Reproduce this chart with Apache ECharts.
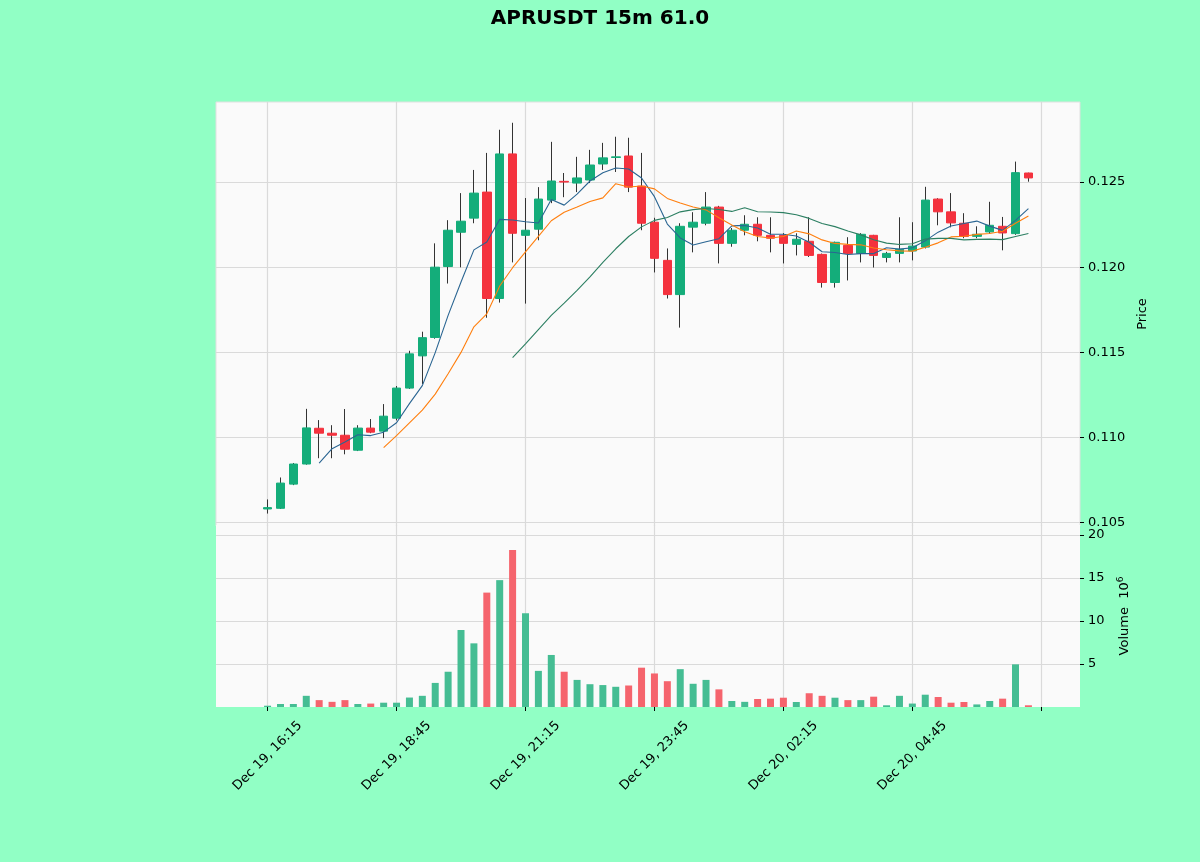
<!DOCTYPE html>
<html>
<head>
<meta charset="utf-8">
<title>APRUSDT 15m 61.0</title>
<script src="https://cdn.jsdelivr.net/npm/echarts@6/dist/echarts.min.js"></script>
<style>
  html, body { margin: 0; padding: 0; background: #91ffc5; }
  #chart { width: 1200px; height: 862px; }
</style>
</head>
<body>
<div id="chart"></div>
<script>
// 15m bars, Dec 19 16:15 -> Dec 20 07:00
const opens = [
  0.10580, 0.10584, 0.10726, 0.10844, 0.11054, 0.11025, 0.11013, 0.10925, 0.11055, 0.11037,
  0.11113, 0.11290, 0.11479, 0.11587, 0.12004, 0.12205, 0.12288, 0.12441, 0.11816, 0.12665,
  0.12187, 0.12223, 0.12394, 0.12504, 0.12494, 0.12512, 0.12606, 0.12644, 0.12653, 0.12476,
  0.12264, 0.12040, 0.11839, 0.12235, 0.12258, 0.12353, 0.12140, 0.12217, 0.12252, 0.12187,
  0.12187, 0.12134, 0.12152, 0.12075, 0.11910, 0.12128, 0.12081, 0.12187, 0.12057, 0.12081,
  0.12095, 0.12118, 0.12400, 0.12325, 0.12258, 0.12181, 0.12207, 0.12240, 0.12197, 0.12553
];
const highs = [
  0.10636, 0.10765, 0.10850, 0.11168, 0.11102, 0.11072, 0.11167, 0.11072, 0.11108, 0.11196,
  0.11302, 0.11509, 0.11621, 0.12140, 0.12276, 0.12435, 0.12571, 0.12671, 0.12807, 0.12848,
  0.12406, 0.12470, 0.12736, 0.12553, 0.12648, 0.12689, 0.12730, 0.12766, 0.12760, 0.12671,
  0.12290, 0.12110, 0.12258, 0.12323, 0.12441, 0.12360, 0.12230, 0.12305, 0.12293, 0.12293,
  0.12200, 0.12199, 0.12293, 0.12080, 0.12150, 0.12176, 0.12200, 0.12190, 0.12090, 0.12293,
  0.12264, 0.12472, 0.12405, 0.12435, 0.12317, 0.12240, 0.12384, 0.12295, 0.12620, 0.12555
];
const lows = [
  0.10553, 0.10580, 0.10720, 0.10840, 0.10878, 0.10878, 0.10901, 0.10920, 0.11025, 0.10996,
  0.11100, 0.11285, 0.11314, 0.11580, 0.11904, 0.11999, 0.12258, 0.11703, 0.11792, 0.12028,
  0.11786, 0.12158, 0.12376, 0.12411, 0.12441, 0.12494, 0.12571, 0.12559, 0.12441, 0.12217,
  0.11969, 0.11816, 0.11645, 0.12087, 0.12246, 0.12022, 0.12120, 0.12187, 0.12152, 0.12087,
  0.12022, 0.12069, 0.12060, 0.11880, 0.11880, 0.11922, 0.12028, 0.11998, 0.12028, 0.12028,
  0.12040, 0.12110, 0.12246, 0.12234, 0.12170, 0.12170, 0.12195, 0.12099, 0.12190, 0.12502
];
const closes = [
  0.10588, 0.10732, 0.10844, 0.11056, 0.11025, 0.11013, 0.10931, 0.11055, 0.11031, 0.11125,
  0.11290, 0.11491, 0.11586, 0.12000, 0.12217, 0.12270, 0.12435, 0.11816, 0.12665, 0.12199,
  0.12217, 0.12400, 0.12506, 0.12500, 0.12524, 0.12600, 0.12642, 0.12648, 0.12470, 0.12258,
  0.12052, 0.11839, 0.12240, 0.12264, 0.12353, 0.12140, 0.12217, 0.12252, 0.12187, 0.12170,
  0.12140, 0.12164, 0.12069, 0.11910, 0.12146, 0.12081, 0.12193, 0.12069, 0.12081, 0.12105,
  0.12124, 0.12394, 0.12325, 0.12260, 0.12181, 0.12193, 0.12246, 0.12201, 0.12555, 0.12524
];
// volume in units of 10^6
const volumes = [
  0.15, 0.35, 0.35, 1.3, 0.8, 0.6, 0.8, 0.35, 0.4, 0.5,
  0.5, 1.1, 1.3, 2.8, 4.1, 8.95, 7.4, 13.3, 14.75, 18.25,
  10.9, 4.2, 6.05, 4.1, 3.15, 2.65, 2.55, 2.35, 2.5, 4.57,
  3.9, 3.0, 4.4, 2.7, 3.15, 2.05, 0.7, 0.6, 0.93, 0.97,
  1.08, 0.58, 1.6, 1.3, 1.08, 0.8, 0.8, 1.2, 0.2, 1.3,
  0.4, 1.43, 1.16, 0.5, 0.58, 0.3, 0.7, 0.97, 4.96, 0.2
];
const tickLabels = [
  "Dec 19, 16:15", "Dec 19, 18:45", "Dec 19, 21:15",
  "Dec 19, 23:45", "Dec 20, 02:15", "Dec 20, 04:45", ""
];
const priceTicks = [0.105, 0.110, 0.115, 0.120, 0.125];
const volumeTicks = [5, 10, 15, 20];
const maPeriods = [5, 10, 20];

const UP = "#14ad7a";
const DOWN = "#f4323e";
const UP_VOL = "#45bd93";
const DOWN_VOL = "#f5646d";
const MA_COLORS = ["#2a6592", "#ff7f0e", "#2c7f62"];
const FONT = "DejaVu Sans";

const padBefore = 4;
const padAfter = 4;
const tickEvery = 10;

function pad(list) {
  return [...Array(padBefore).fill("-"), ...list, ...Array(padAfter).fill("-")];
}

function movingAverage(values, n) {
  return values.map((_, i) => {
    if (i < n - 1) {
      return "-";
    }
    const win = values.slice(i - n + 1, i + 1);
    return win.reduce((a, b) => a + b, 0) / n;
  });
}

const barCount = closes.length;
const categories = [];
for (let k = 0; k < barCount + padBefore + padAfter; k++) {
  categories.push("bar" + (k - padBefore));
}

function isTick(index) {
  const i = index - padBefore;
  return i >= 0 && i % tickEvery === 0 && i / tickEvery < tickLabels.length;
}

const wickData = pad(closes.map((c, i) => [opens[i], c, lows[i], highs[i]]));
const bodyData = pad(closes.map((c, i) => [opens[i], c, Math.min(opens[i], c), Math.max(opens[i], c)]));
const volumeData = pad(volumes.map((v, i) => ({
  value: v,
  itemStyle: { color: closes[i] >= opens[i] ? UP_VOL : DOWN_VOL }
})));

const maSeries = maPeriods.map((n, j) => ({
  name: "MA" + n,
  type: "line",
  xAxisIndex: 0,
  yAxisIndex: 0,
  data: pad(movingAverage(closes, n)),
  symbol: "none",
  smooth: false,
  z: 5,
  lineStyle: { color: MA_COLORS[j], width: 1.1 }
}));

const chart = echarts.init(document.getElementById("chart"));

const xAxisBase = {
  type: "category",
  data: categories,
  boundaryGap: false,
  axisLine: { show: false },
  splitLine: {
    show: true,
    interval: (index) => isTick(index),
    lineStyle: { color: "#dadada", width: 1.2 }
  }
};

chart.setOption({
  backgroundColor: "#91ffc5",
  animation: false,
  title: {
    text: "APRUSDT 15m 61.0",
    left: "center",
    top: 4,
    textStyle: { fontFamily: FONT, fontWeight: "bold", fontSize: 20, color: "#000" }
  },
  grid: [
    {
      left: 216, right: 120, top: 102, height: 424,
      show: true, backgroundColor: "#fafafa", borderColor: "#e0e0e0", borderWidth: 1
    },
    {
      left: 216, right: 120, top: 525, height: 182,
      show: true, backgroundColor: "#fafafa", borderColor: "#e6e6e6", borderWidth: 0
    }
  ],
  xAxis: [
    Object.assign({}, xAxisBase, {
      gridIndex: 0,
      axisTick: { show: false },
      axisLabel: { show: false }
    }),
    Object.assign({}, xAxisBase, {
      gridIndex: 1,
      axisTick: {
        show: true,
        interval: (index) => isTick(index),
        length: 4,
        lineStyle: { color: "#000" }
      },
      axisLabel: {
        show: true,
        interval: (index) => isTick(index),
        formatter: (value, index) => tickLabels[(index - padBefore) / tickEvery] ?? "",
        rotate: 45,
        align: "center",
        verticalAlign: "middle",
        margin: 49,
        fontFamily: FONT,
        fontSize: 13,
        color: "#000"
      }
    })
  ],
  yAxis: [
    {
      type: "value",
      gridIndex: 0,
      position: "right",
      min: 0.1048,
      max: 0.1297,
      scale: true,
      name: "Price",
      nameLocation: "middle",
      nameRotate: 90,
      nameGap: 56,
      nameTextStyle: { fontFamily: FONT, fontSize: 13, color: "#000" },
      axisLine: { show: false },
      axisTick: {
        show: true, length: 4, customValues: priceTicks,
        lineStyle: { color: "#000" }
      },
      axisLabel: {
        customValues: priceTicks,
        formatter: (v) => v.toFixed(3),
        margin: 8,
        fontFamily: FONT,
        fontSize: 13,
        color: "#000"
      },
      splitLine: { show: true, lineStyle: { color: "#dadada", width: 1.2 } }
    },
    {
      type: "value",
      gridIndex: 1,
      position: "right",
      min: 0,
      max: 21.16,
      name: "Volume  10{sup|6}",
      nameLocation: "middle",
      nameRotate: 90,
      nameGap: 36,
      nameTextStyle: {
        fontFamily: FONT, fontSize: 13, color: "#000",
        rich: {
          sup: { fontFamily: FONT, fontSize: 9, color: "#000", verticalAlign: "top", padding: [0, 0, 8, 0] }
        }
      },
      axisLine: { show: false },
      axisTick: {
        show: true, length: 4, customValues: volumeTicks,
        lineStyle: { color: "#000" }
      },
      axisLabel: {
        customValues: volumeTicks,
        margin: 8,
        fontFamily: FONT,
        fontSize: 13,
        color: "#000"
      },
      splitLine: { show: true, lineStyle: { color: "#dadada", width: 1.2 } }
    }
  ],
  series: [
    {
      name: "wicks",
      type: "candlestick",
      xAxisIndex: 0,
      yAxisIndex: 0,
      data: wickData,
      barWidth: 1,
      z: 2,
      itemStyle: {
        color: "#333", color0: "#333",
        borderColor: "#333", borderColor0: "#333", borderWidth: 1
      }
    },
    {
      name: "bodies",
      type: "candlestick",
      xAxisIndex: 0,
      yAxisIndex: 0,
      data: bodyData,
      barWidth: 9,
      z: 3,
      itemStyle: {
        color: UP, color0: DOWN,
        borderColor: UP, borderColor0: DOWN, borderWidth: 1
      }
    },
    ...maSeries,
    {
      name: "volume",
      type: "bar",
      xAxisIndex: 1,
      yAxisIndex: 1,
      data: volumeData,
      barWidth: 7
    }
  ]
});
</script>
</body>
</html>
